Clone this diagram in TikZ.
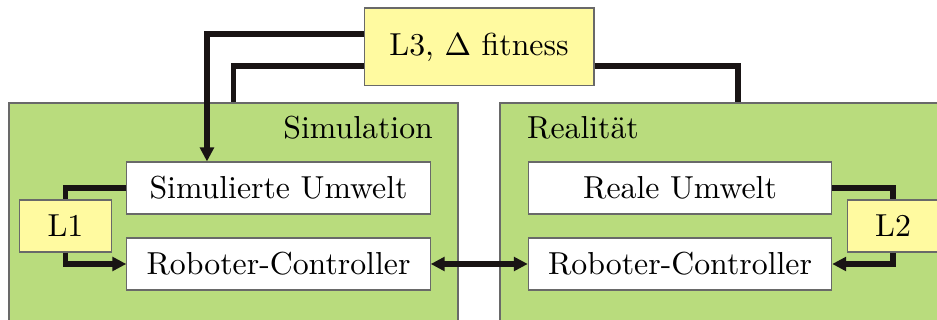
\documentclass[tikz,border=0pt]{standalone}
\usetikzlibrary{arrows.meta}
\definecolor{boxgreen}{RGB}{185,220,125}
\definecolor{boxyellow}{RGB}{255,250,160}
\definecolor{edgegray}{RGB}{105,105,105}
\definecolor{wirecol}{RGB}{25,20,20}
\begin{document}
\begin{tikzpicture}[x=0.3145pt,y=-0.3145pt,
  area/.style={draw=edgegray,fill=boxgreen,line width=0.35pt,inner sep=0,minimum height=74.5pt},
  wbox/.style={draw=edgegray,fill=white,line width=0.35pt,inner sep=0,minimum width=95.4pt,minimum height=16.35pt},
  ybox/.style={draw=edgegray,fill=boxyellow,line width=0.35pt,inner sep=0},
  lbl/.style={inner sep=0},
  wire/.style={line width=1.6pt,draw=wirecol,line join=miter},
  tip/.style={-{Triangle[length=4.4pt,width=4.3pt]}},
  dtip/.style={{Triangle[length=4.4pt,width=4.3pt]}-{Triangle[length=4.4pt,width=4.3pt]}}
]
\useasboundingbox (0,0) rectangle (937,320);
\clip (0,0) rectangle (937,320);
% areas
\node[area,minimum width=141.2pt] (sim) at (233.5,221.5) {};
\node[area,minimum width=149.7pt] (real) at (738,221.5) {};
\node[lbl,anchor=base east] (simlbl) at ([xshift=-7.9pt,yshift=-11.3pt]sim.north east) {Simulation};
\node[lbl,anchor=base west] (reallbl) at ([xshift=8.5pt,yshift=-11.3pt]real.north west) {Realität};
% inner boxes
\node[wbox] (su) at (278.5,188) {Simulierte Umwelt};
\node[wbox] (sr) at (278.5,264) {Roboter-Controller};
\node[wbox] (ru) at (680,188) {Reale Umwelt};
\node[wbox] (rr) at (680,264) {Roboter-Controller};
\node[ybox,minimum width=28.9pt,minimum height=16.35pt] (l1) at (65.5,226) {L1};
\node[ybox,minimum width=28.9pt,minimum height=16.35pt] (l2) at (893,226) {L2};
\node[ybox,minimum width=72.3pt,minimum height=24.5pt] (l3) at (479,47) {L3, $\Delta$ fitness};
% wires
\draw[wire,tip] ([yshift=4.09pt]l3.west) -| ([xshift=-22.5pt]su.north);
\draw[wire] ([yshift=-5.98pt]l3.west) -| (sim.north);
\draw[wire] ([yshift=-5.98pt]l3.east) -| (real.north);
\draw[wire] (su.west) -| (l1.north);
\draw[wire,tip] (l1.south) |- (sr.west);
\draw[wire] (ru.east) -| (l2.north);
\draw[wire,tip] (l2.south) |- (rr.east);
\draw[wire,dtip] (sr.east) -- (rr.west);
\end{tikzpicture}
\end{document}
